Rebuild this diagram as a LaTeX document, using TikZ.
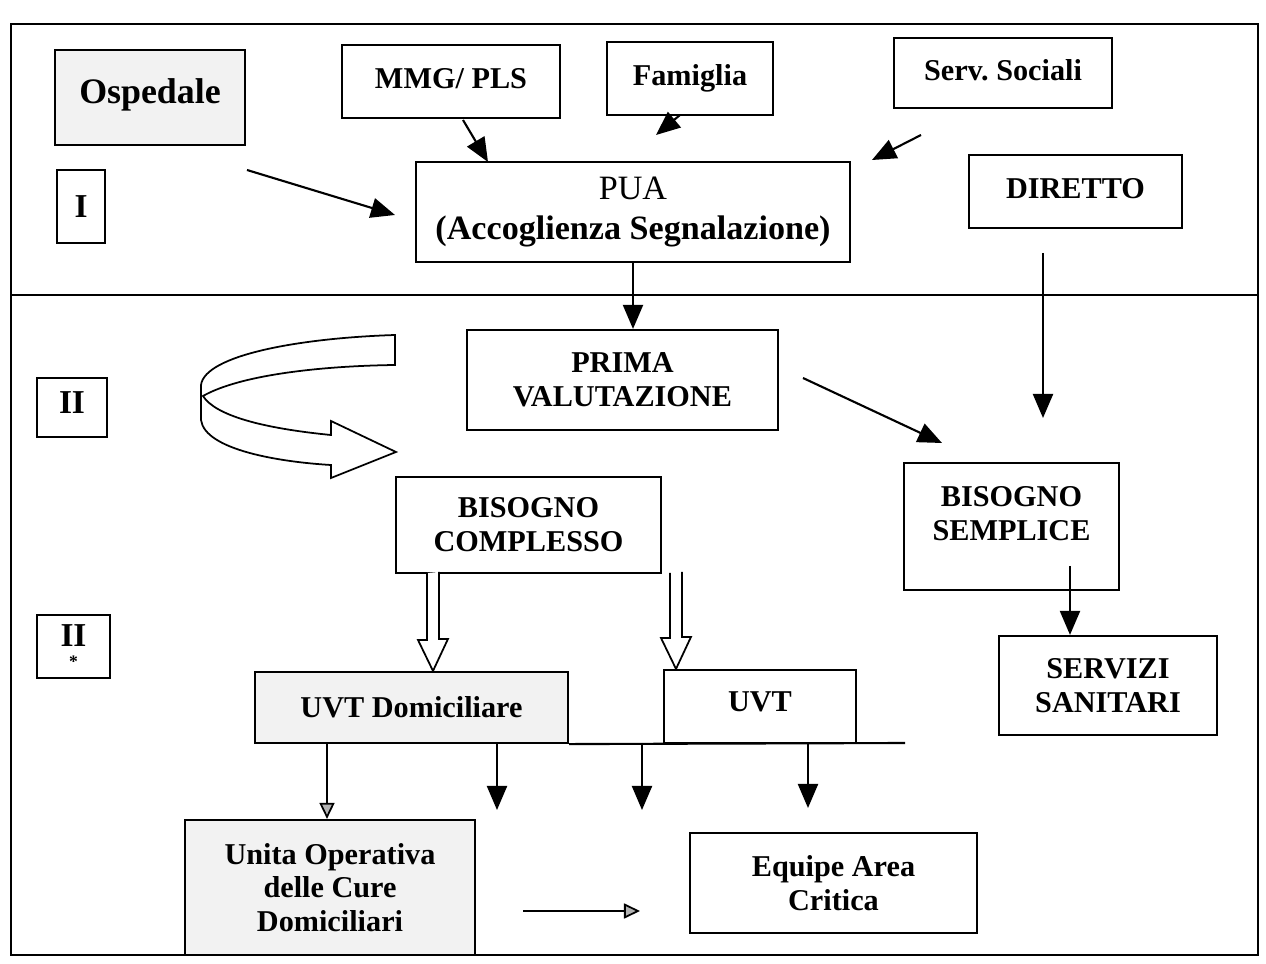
\documentclass[tikz,border=0pt]{standalone}
\usepackage{fontspec}
\setmainfont{Liberation Serif}
\usetikzlibrary{arrows.meta}
\tikzset{
  box/.style={draw, line width=0.6pt, align=center, inner sep=0pt, font=\fontsize{8.6}{9.6}\selectfont\bfseries},
  kgrey/.style={box, fill=black!5},
  kstage/.style={box, font=\fontsize{9.5}{8}\selectfont\bfseries},
  flow/.style={-{Triangle[length=2.4mm, width=2mm]}, line width=0.6pt},
  lightflow/.style={-{Triangle[length=1.6mm, width=1.5mm, fill=gray!60]}, line width=0.5pt},
  hollow/.style={draw, line width=0.5pt, fill=white, line join=miter},
}

\begin{document}
\begin{tikzpicture}[x=0.01cm, y=-0.01cm]
    \useasboundingbox (0,0) rectangle (1266,964);
    \draw[line width=0.6pt] (11,24) rectangle (1258,955);
    \draw[line width=0.6pt] (11,295) -- (1258,295);

    \node[kgrey, minimum width=1.90cm, minimum height=0.95cm, font=\fontsize{10.2}{12}\selectfont\bfseries] (osp) at (150,97.5) {\raisebox{3.4pt}{Ospedale}};
    \node[box, minimum width=2.18cm, minimum height=0.73cm] (mmg) at (451,81.5) {\raisebox{1.7pt}{MMG/ PLS}};
    \node[box, minimum width=1.66cm, minimum height=0.73cm] (fam) at (690,78.5) {\raisebox{1.7pt}{Famiglia}};
    \node[box, minimum width=2.18cm, minimum height=0.70cm] (soc) at (1003,73) {\raisebox{1.5pt}{Serv.\ Sociali}};
    \node[box, minimum width=4.34cm, minimum height=1.00cm, font=\fontsize{9.7}{11.5}\selectfont\bfseries] (pua) at (633,212) {{\mdseries PUA}\\(Accoglienza Segnalazione)};
    \node[box, minimum width=2.13cm, minimum height=0.73cm] (dir) at (1075.5,191.5) {\raisebox{1.7pt}{DIRETTO}};
    \node[kstage, minimum width=0.48cm, minimum height=0.73cm] (st1) at (81,206.5) {I};

    \node[kstage, minimum width=0.70cm, minimum height=0.59cm] (st2) at (72,407.5) {\raisebox{3pt}{II}};
    \node[box, minimum width=3.11cm, minimum height=1.00cm] (prima) at (622.5,380) {PRIMA\\VALUTAZIONE};
    \node[box, minimum width=2.65cm, minimum height=0.96cm] (cplx) at (528.5,525) {BISOGNO\\COMPLESSO};
    \node[box, minimum width=2.15cm, minimum height=1.27cm,
      label={[anchor=north, yshift=-1.2mm, align=center, font=\fontsize{8.6}{9.6}\selectfont\bfseries]north:BISOGNO\\SEMPLICE}] (semp) at (1011.5,526.5) {};
    \node[box, minimum width=2.18cm, minimum height=0.99cm] (serv) at (1108,685.5) {SERVIZI\\SANITARI};

    \node[kstage, minimum width=0.73cm, minimum height=0.63cm] (st3) at (73.5,646.5) {II\\[-2pt]{\fontsize{5}{5}\selectfont *}};
    \node[kgrey, minimum width=3.13cm, minimum height=0.71cm] (uvtd) at (411.5,707.5) {UVT Domiciliare};
    \node[box, minimum width=1.92cm, minimum height=0.73cm] (uvt) at (760,706.5) {\raisebox{2.7pt}{UVT}};
    \node[kgrey, minimum width=2.90cm, minimum height=1.35cm] (unita) at (330,887.5) {Unita Operativa\\delle Cure\\Domiciliari};
    \node[box, minimum width=2.87cm, minimum height=1.00cm] (equipe) at (833.5,883) {Equipe Area\\Critica};

    \coordinate (o1) at (247,170);
    \coordinate (o2) at (395,215);
    \coordinate (m1) at (463,120);
    \coordinate (m2) at (488,162);
    \coordinate (f1) at (680,115);
    \coordinate (f2) at (656,135);
    \coordinate (s1) at (921,135);
    \coordinate (s2) at (872,160);
    \coordinate (d1) at (1043,253);
    \coordinate (d2) at (1043,418);
    \coordinate (p1) at (803,378);
    \coordinate (p2) at (942,443);
    \coordinate (e1) at (1070,566);
    \coordinate (h1) at (433,573);
    \coordinate (h2) at (676,573);
    \coordinate (busend) at (905,743);
    \coordinate (b1) at (327,743);
    \coordinate (b2) at (497,743);
    \coordinate (b2e) at (497,810);
    \coordinate (b3) at (642,743);
    \coordinate (b3e) at (642,810);
    \coordinate (b4) at (808,743);
    \coordinate (b4e) at (808,808);
    \coordinate (u1) at (523,911);
    \coordinate (u2) at (640,911);

    \draw[flow] (o1) -- (o2);
    \draw[flow] (m1) -- (m2);
    \draw[flow] (f1) -- (f2);
    \draw[flow] (s1) -- (s2);
    \draw[flow] (pua.south) -- (pua.south |- prima.north);
    \draw[flow] (d1) -- (d2);
    \draw[flow] (p1) -- (p2);
    \draw[flow] (e1) -- (e1 |- serv.north);

    % curved arrow
    \draw[hollow] (395,335) .. controls (300,338) and (205,355) .. (201,385) -- (201,420)
      .. controls (205,450) and (280,462) .. (331,465) -- (331,478) -- (396,452) -- (331,421) -- (331,435)
      .. controls (260,428) and (215,415) .. (203,396)
      .. controls (240,375) and (320,366) .. (395,365) -- cycle;

    \draw[hollow] (h1) ++(-6,0) -- ++(0,67) -- ++(-9,0) -- (uvtd.north -| h1) -- ++(15,-32) -- ++(-9,0) -- ++(0,-67);
    \draw[hollow] (h2) ++(-6,0) -- ++(0,65) -- ++(-9,0) -- (uvt.north -| h2) -- ++(15,-32) -- ++(-9,0) -- ++(0,-65);

    \draw[line width=0.6pt] (uvtd.south east) -- (busend);
    \draw[lightflow] (b1) -- (b1 |- unita.north);
    \draw[flow] (b2) -- (b2e);
    \draw[flow] (b3) -- (b3e);
    \draw[flow] (b4) -- (b4e);
    \draw[lightflow] (u1) -- (u2);
  \end{tikzpicture}
\end{document}
